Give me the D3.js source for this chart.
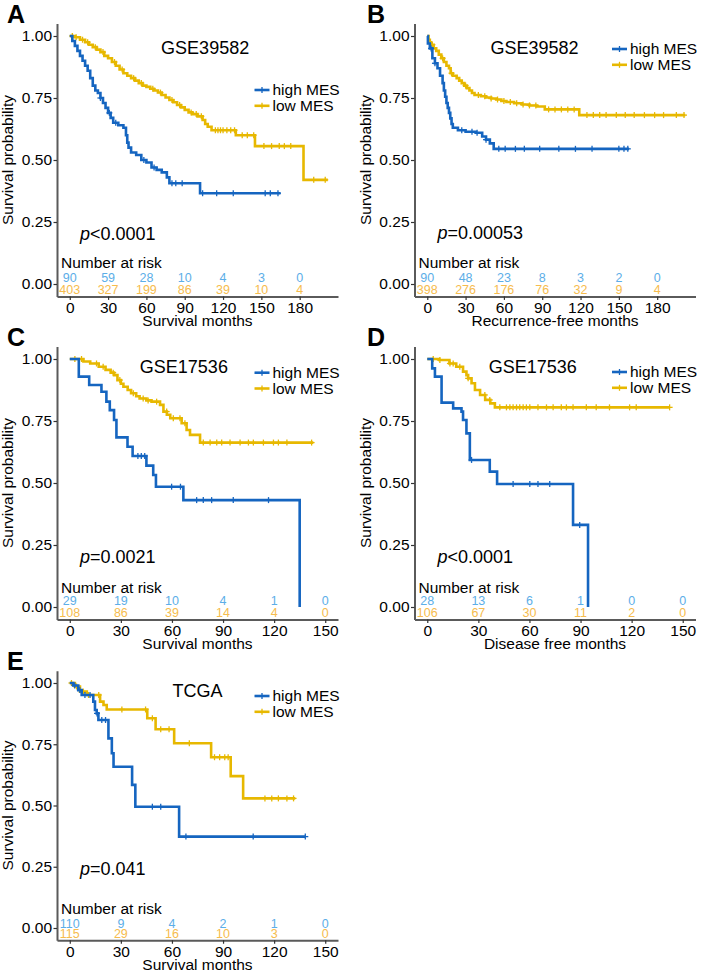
<!DOCTYPE html>
<html><head><meta charset="utf-8">
<script src="https://cdn.jsdelivr.net/npm/d3@7"></script>
<style>body{margin:0;background:#fff} svg{display:block} text{font-family:"Liberation Sans",Arial,Helvetica,sans-serif}</style>
</head><body><svg id="c" width="708" height="976"></svg>
<script>
// ---------------- DATA ----------------
const panelLabels = ["A","B","C","D","E"];
const titles = ["GSE39582","GSE39582","GSE17536","GSE17536","TCGA"];
const xLabels = ["Survival months","Recurrence-free months","Survival months","Disease free months","Survival months"];
const pValues = ["<0.0001","=0.00053","=0.0021","<0.0001","=0.041"];
const groups = ["high MES","low MES"];
const yTicks = [0,0.25,0.5,0.75,1];
const xTicksLong = [0,30,60,90,120,150,180];
const xTicksShort = [0,30,60,90,120,150];

// Kaplan-Meier steps: [time, survival after drop]
const aHigh = [[0,1],[2,0.98],[4,0.96],[6,0.94],[8,0.92],[10,0.90],[12,0.88],[14,0.86],[16,0.83],[18,0.80],[20,0.78],[22,0.77],[24,0.75],[26,0.73],[28,0.71],[30,0.69],[32,0.67],[34,0.65],[38,0.64],[42,0.63],[44,0.60],[45,0.57],[46,0.55],[48,0.53],[52,0.52],[56,0.50],[60,0.49],[64,0.47],[68,0.46],[72,0.45],[76,0.43],[78,0.406],[102,0.366]];
const aHighEnd = 165;
const aHighCens = [24,31,36,58,66,80,83,88,104,115,128,153,157,163];
const aLow = [[0,1],[4,0.995],[8,0.985],[12,0.975],[15,0.965],[18,0.955],[21,0.945],[24,0.935],[27,0.92],[30,0.91],[33,0.895],[36,0.88],[39,0.865],[42,0.85],[45,0.84],[48,0.83],[51,0.82],[54,0.81],[57,0.80],[60,0.795],[63,0.787],[66,0.78],[69,0.772],[72,0.762],[75,0.752],[78,0.742],[81,0.733],[84,0.722],[87,0.712],[90,0.702],[93,0.692],[96,0.685],[100,0.676],[104,0.661],[106,0.645],[108,0.634],[111,0.62],[130,0.60],[145,0.556],[183,0.42]];
const aLowEnd = 202;
const aLowCens = [2,5,10,14,20,26,35,41,50,56,65,71,80,86,95,99,103,114,116,118,120,123,126,129,135,139,144,152,158,164,168,173,191,200];

const bHigh = [[0,1],[0.5,0.97],[2,0.95],[4,0.91],[6,0.89],[8,0.87],[10,0.84],[12,0.81],[13,0.78],[14,0.755],[15,0.73],[16,0.71],[17,0.69],[18,0.668],[19,0.645],[20,0.63],[24,0.62],[30,0.614],[38,0.61],[43,0.595],[46,0.582],[49,0.567],[52,0.545]];
const bHighEnd = 158;
const bHighCens = [3,6,27,35,39,46,56,61,69,76,88,103,116,129,150,154,157];
const bLow = [[0,1],[1,0.985],[2,0.975],[3,0.965],[5,0.95],[7,0.94],[9,0.925],[11,0.91],[13,0.895],[15,0.88],[17,0.87],[18.3,0.85],[20,0.84],[23,0.83],[25,0.82],[27,0.81],[29,0.80],[31,0.79],[33,0.78],[35,0.77],[37,0.762],[42,0.757],[46,0.752],[50,0.748],[54,0.744],[58,0.738],[62,0.734],[68,0.729],[74,0.724],[80,0.72],[86,0.716],[92,0.704],[119,0.681]];
const bLowEnd = 202;
const bLowCens = [4,12,19,30,40,45,50,55,60,65,70,75,80,85,95,100,105,110,115,125,130,135,140,148,155,162,170,178,185,195,201];

const cHigh = [[0,1],[5.3,0.929],[11.4,0.895],[18.6,0.868],[21.5,0.828],[23.5,0.794],[26,0.754],[27.4,0.684],[33.9,0.646],[36.9,0.609],[45,0.570],[49,0.532],[50.6,0.485],[66.7,0.431],[135,0]];
const cHighEnd = 135;
const cHighCens = [40,42,44,59.8,65,74.5,78.4,83.3,96,116.7];
const cLow = [[0,1],[8,0.99],[12,0.982],[17,0.969],[21,0.956],[24,0.945],[26,0.935],[28,0.915],[30,0.90],[31.5,0.888],[34,0.875],[36,0.862],[39,0.85],[41,0.841],[45,0.833],[48,0.828],[53,0.815],[55,0.788],[57,0.775],[59,0.761],[65.7,0.741],[68.6,0.714],[70.6,0.694],[76.5,0.663]];
const cLowEnd = 143;
const cLowCens = [3,6.9,15.7,19.6,25.5,29.4,37.3,43.1,46,51,56.9,60.8,64.7,67.6,78.4,82.4,86.3,89.2,94.1,100,104.9,107.8,113.7,119.6,122.5,127.5,142];

const dHigh = [[0,1],[2.9,0.962],[4.5,0.929],[8.4,0.824],[15.2,0.801],[20.1,0.788],[21,0.754],[23,0.70],[25,0.593],[36.7,0.546],[41,0.496],[85.6,0.331],[94.4,0]];
const dHighEnd = 94.4;
const dHighCens = [26,50.4,60.2,65,71.9,89.5];
const dLow = [[0,1],[7,0.996],[13,0.982],[17,0.969],[21,0.949],[23,0.935],[24,0.922],[26,0.902],[28,0.875],[31,0.855],[34,0.835],[37,0.821],[39.7,0.805]];
const dLowEnd = 142;
const dLowCens = [3.5,7.4,13.3,15.2,19.1,24,33.8,36.7,42.6,46.5,48.5,50.4,52.4,54.3,56.3,58.2,60.2,65,70,73.9,78.7,81.7,85.6,93.4,99.2,107,118.8,122.7,142.3];

const eHigh = [[0,1],[2,0.99],[5,0.971],[7,0.951],[13.8,0.924],[14.8,0.89],[15.8,0.876],[16.8,0.849],[22.7,0.774],[24.7,0.713],[25.7,0.658],[36.6,0.584],[38.5,0.495],[64.2,0.373]];
const eHighEnd = 138.3;
const eHighCens = [2.9,5.9,8.9,11.9,16,18.8,21,48.5,53.4,68.2,107.7,138.3];
const eLow = [[0,1],[3,0.986],[6,0.965],[10,0.951],[17.8,0.924],[19.8,0.91],[21.7,0.892],[45.5,0.856],[50.4,0.811],[61.3,0.754],[83,0.697],[94.5,0.62],[101.8,0.529]];
const eLowEnd = 132.4;
const eLowCens = [1,4,8,11,17,30.6,44.5,48.5,53.4,58.3,70.2,85,88,91,93,114.6,118.6,122.5,127.5,131.4];

// Number at risk
const aRiskHigh = [90,59,28,10,4,3,0];
const aRiskLow  = [403,327,199,86,39,10,4];
const bRiskHigh = [90,48,23,8,3,2,0];
const bRiskLow  = [398,276,176,76,32,9,4];
const cRiskHigh = [29,19,10,4,1,0];
const cRiskLow  = [108,86,39,14,4,0];
const dRiskHigh = [28,13,6,1,0,0];
const dRiskLow  = [106,67,30,11,2,0];
const eRiskHigh = [110,9,4,2,1,0];
const eRiskLow  = [115,29,16,10,3,0];

// ---------------- LAYOUT ----------------
const BLUE = "#1565C0", GOLD = "#E7B800";
const BLUE_T = "#5CAEE8", GOLD_T = "#F6BC4E";
const AXIS = "#5a5a5a";
const FONT = 15.5;

const panels = [
  {high:aHigh,highEnd:aHighEnd,highC:aHighCens,low:aLow,lowEnd:aLowEnd,lowC:aLowCens,rh:aRiskHigh,rl:aRiskLow,ticks:xTicksLong,xMax:200,col:0,row:0,titleT:106,titleDy:18,legDy:54,pS:0.177},
  {high:bHigh,highEnd:bHighEnd,highC:bHighCens,low:bLow,lowEnd:bLowEnd,lowC:bLowCens,rh:bRiskHigh,rl:bRiskLow,ticks:xTicksLong,xMax:200,col:1,row:0,titleT:84,titleDy:18,legDy:13,pS:0.18},
  {high:cHigh,highEnd:cHighEnd,highC:cHighCens,low:cLow,lowEnd:cLowEnd,lowC:cLowCens,rh:cRiskHigh,rl:cRiskLow,ticks:xTicksShort,xMax:150,col:0,row:1,titleT:67,titleDy:14,legDy:13.7,pS:0.176},
  {high:dHigh,highEnd:dHighEnd,highC:dHighCens,low:dLow,lowEnd:dLowEnd,lowC:dLowCens,rh:dRiskHigh,rl:dRiskLow,ticks:xTicksShort,xMax:150,col:1,row:1,titleT:62,titleDy:14,legDy:13,pS:0.178},
  {high:eHigh,highEnd:eHighEnd,highC:eHighCens,low:eLow,lowEnd:eLowEnd,lowC:eLowCens,rh:eRiskHigh,rl:eRiskLow,ticks:xTicksShort,xMax:150,col:0,row:2,titleT:75,titleDy:14,legDy:13,pS:0.216}
];
const rowTop = [36, 359, 683];
const rowH = [248, 248, 245];
const riskDy = [[-2,9.5],[-2,9.8],[-0.5,9.8]];
const narDy = [15.7, 14.3, 14];

const svg = d3.select("#c");
svg.append("rect").attr("width",708).attr("height",976).attr("fill","#fff");

function survAt(steps, t){ let s = 1; for (const [tt,ss] of steps){ if (tt <= t) s = ss; } return s; }

panels.forEach((p,i)=>{
  const left = 57 + p.col*357.5;
  const right = left + 281;
  const y1 = rowTop[p.row], y0 = y1 + rowH[p.row];
  const per = rowH[p.row];
  const x = d3.scaleLinear().domain([-0.05*p.xMax, 1.05*p.xMax]).range([left, right]);
  const y = d3.scaleLinear().domain([-0.05, 1.05]).range([y0 + 0.05*per, y1 - 0.05*per]);
  const g = svg.append("g");

  // axes
  const ya = g.append("g").attr("transform",`translate(${left},0)`)
    .call(d3.axisLeft(y).tickValues(yTicks).tickFormat(d3.format(".2f")).tickSize(3.5).tickSizeOuter(0).tickPadding(1.5));
  const xa = g.append("g").attr("transform",`translate(0,${y(-0.05)})`)
    .call(d3.axisBottom(x).tickValues(p.ticks).tickSize(3.5).tickSizeOuter(0).tickPadding(2));
  [ya,xa].forEach(a=>{
    a.select(".domain").attr("stroke",AXIS).attr("stroke-width",2);
    a.selectAll(".tick line").attr("stroke","#333").attr("stroke-width",1.2);
    a.selectAll(".tick text").attr("fill","#000").attr("font-size",FONT).attr("font-family","Liberation Sans, Arial, sans-serif");
  });

  // axis titles
  g.append("text").attr("x",(left+right)/2).attr("y",y(-0.05)+29.5).attr("text-anchor","middle")
    .attr("font-size",FONT).text(xLabels[i]);
  g.append("text").attr("transform",`translate(${left-44},${(y(1.05)+y(-0.05))/2}) rotate(-90)`)
    .attr("text-anchor","middle").attr("font-size",FONT).text("Survival probability");

  // panel letter
  g.append("text").attr("x", 7 + p.col*360).attr("y", y1 - 13).attr("font-size",25).attr("font-weight","bold")
    .text(panelLabels[i]);

  // title
  g.append("text").attr("x",x(p.titleT)).attr("y",y1+p.titleDy).attr("text-anchor","middle")
    .attr("font-size",18).text(titles[i]);

  // curves
  const line = d3.line().x(d=>x(d[0])).y(d=>y(d[1])).curve(d3.curveStepAfter);
  const series = [
    {steps:p.low, end:p.lowEnd, cens:p.lowC, color:GOLD},
    {steps:p.high, end:p.highEnd, cens:p.highC, color:BLUE}
  ];
  series.forEach(s=>{
    const pts = s.steps.slice();
    pts.push([s.end, s.steps[s.steps.length-1][1]]);
    g.append("path").attr("d",line(pts)).attr("fill","none").attr("stroke",s.color).attr("stroke-width",2.6);
    const cg = g.append("g").attr("stroke",s.color).attr("stroke-width",1.3);
    s.cens.forEach(t=>{
      const cx = x(t), cy = y(survAt(s.steps,t));
      cg.append("line").attr("x1",cx-3).attr("x2",cx+3).attr("y1",cy).attr("y2",cy);
      cg.append("line").attr("x1",cx).attr("x2",cx).attr("y1",cy-3).attr("y2",cy+3);
    });
  });

  // legend
  [BLUE,GOLD].forEach((c,k)=>{
    const ly = y1 + p.legDy + k*15.8;
    const lx = left + 197.5;
    g.append("line").attr("x1",lx).attr("x2",lx+15).attr("y1",ly).attr("y2",ly).attr("stroke",c).attr("stroke-width",2.6);
    g.append("line").attr("x1",lx+7.5).attr("x2",lx+7.5).attr("y1",ly-3).attr("y2",ly+3).attr("stroke",c).attr("stroke-width",1.3);
    g.append("text").attr("x",lx+18).attr("y",ly).attr("dy","0.35em").attr("font-size",FONT).text(groups[k]);
  });

  // p value
  const pt = g.append("text").attr("x",left+23).attr("y",y(p.pS)).attr("font-size",18);
  pt.append("tspan").attr("font-style","italic").text("p");
  pt.append("tspan").text(pValues[i]);

  // number at risk
  g.append("text").attr("x",left+4).attr("y",y0 - narDy[p.row]).attr("font-size",FONT).text("Number at risk");
  p.ticks.forEach((t,k)=>{
    g.append("text").attr("x",x(t)).attr("y",y0+riskDy[p.row][0]).attr("text-anchor","middle").attr("font-size",12.5).attr("fill",BLUE_T).text(p.rh[k]);
    g.append("text").attr("x",x(t)).attr("y",y0+riskDy[p.row][1]).attr("text-anchor","middle").attr("font-size",12.5).attr("fill",GOLD_T).text(p.rl[k]);
  });
});
</script></body></html>
